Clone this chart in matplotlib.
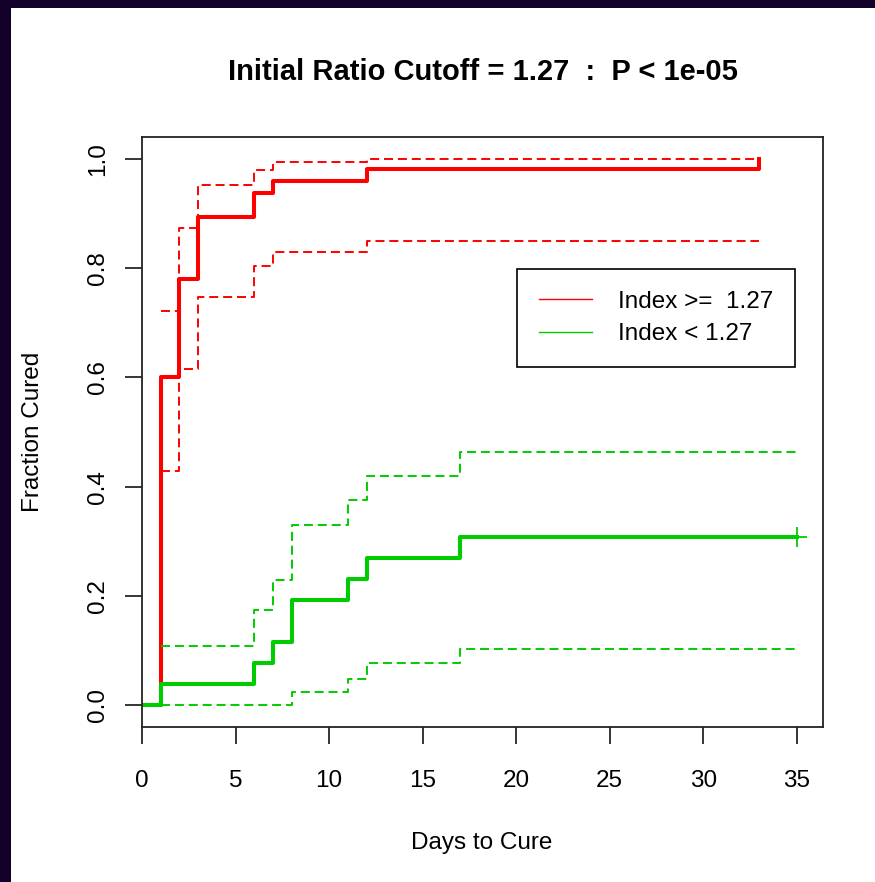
import matplotlib
matplotlib.use("Agg")
import matplotlib.pyplot as plt
from matplotlib.patches import Rectangle

# ----------------------------
# Data
# ----------------------------
TITLE = "Initial Ratio Cutoff = 1.27  :  P < 1e-05"
XLABEL = "Days to Cure"
YLABEL = "Fraction Cured"
LABEL_HIGH = "Index >=  1.27"
LABEL_LOW = "Index < 1.27"

# Index >= 1.27 (red)
high_days = [0, 1, 2, 3, 6, 7, 12, 33]
high_frac = [0.0, 0.600, 0.780, 0.893, 0.937, 0.960, 0.982, 1.0]
high_ci_days = [1, 2, 3, 6, 7, 12, 33]
high_upper = [0.722, 0.873, 0.953, 0.979, 0.994, 0.999, 0.999]
high_lower = [0.428, 0.616, 0.748, 0.804, 0.830, 0.849, 0.849]

# Index < 1.27 (green)
low_days = [0, 1, 6, 7, 8, 11, 12, 17, 35]
low_frac = [0.0, 0.0385, 0.077, 0.115, 0.192, 0.231, 0.269, 0.308, 0.308]
low_ci_days = [1, 6, 7, 8, 11, 12, 17, 35]
low_upper = [0.109, 0.174, 0.230, 0.330, 0.376, 0.420, 0.463, 0.463]
low_lower = [0.0, 0.0, 0.0, 0.0245, 0.048, 0.077, 0.1025, 0.1025]
low_censor_day = [35]
low_censor_frac = [0.308]

x_ticks = [0, 5, 10, 15, 20, 25, 30, 35]
y_ticks = [0.0, 0.2, 0.4, 0.6, 0.8, 1.0]

RED = "#FF0000"
GREEN = "#00CD00"
BORDER = "#130029"

plt.rcParams["font.family"] = ["Liberation Sans", "DejaVu Sans"]
plt.rcParams["lines.scale_dashes"] = False
FS = 17.5

# ----------------------------
# Figure
# ----------------------------
fig = plt.figure(figsize=(8.75, 8.82), dpi=100, facecolor=BORDER)
fig.add_artist(Rectangle((11 / 875, 0), 1, 1 - 8 / 882, transform=fig.transFigure,
                         facecolor="white", edgecolor="none", zorder=-1))

ax = fig.add_axes([142 / 875, 155 / 882, 681 / 875, 590 / 882])

dash = (6.5, 3.5)
ax.step(high_days, high_frac, where="post", color=RED, lw=2.9)
ax.step(high_ci_days, high_upper, where="post", color=RED, lw=1.4, dashes=dash)
ax.step(high_ci_days, high_lower, where="post", color=RED, lw=1.4, dashes=dash)

ax.step(low_days, low_frac, where="post", color=GREEN, lw=2.9)
ax.step(low_ci_days, low_upper, where="post", color=GREEN, lw=1.4, dashes=dash)
ax.step(low_ci_days, low_lower, where="post", color=GREEN, lw=1.4, dashes=dash)
ax.plot(low_censor_day, low_censor_frac, "+", color=GREEN, ms=15, mew=1.3)

ax.set_xlim(0, 36.4)
ax.set_ylim(-0.04, 1.04)
ax.set_xticks(x_ticks)
ax.set_yticks(y_ticks)
ax.set_xticklabels([str(t) for t in x_ticks])
ax.set_yticklabels([f"{t:.1f}" for t in y_ticks], rotation=90, va="center")
ax.tick_params(direction="out", length=12, width=1.1, labelsize=FS, color="black")
ax.tick_params(axis="x", pad=19)
ax.tick_params(axis="y", pad=12)
for s in ax.spines.values():
    s.set_linewidth(1.3)
    s.set_color("#222222")

# legend
h1, = ax.plot([], [], color=RED, lw=1.0)
h2, = ax.plot([], [], color=GREEN, lw=1.0)
leg = ax.legend([h1, h2], [LABEL_HIGH, LABEL_LOW], loc="upper left",
                bbox_to_anchor=(0.5507, 0.7763), borderaxespad=0, fontsize=FS,
                handlelength=2.2, handletextpad=1.05, labelspacing=0.42,
                borderpad=0.9, fancybox=False, framealpha=1)
leg.get_frame().set_edgecolor("black")
leg.get_frame().set_linewidth(1.2)

fig.text(483 / 875, 1 - 72 / 882, TITLE, ha="center", va="center", fontsize=21,
         fontweight="bold")
fig.text(482 / 875, 1 - 843 / 882, XLABEL, ha="center", va="center", fontsize=FS)
fig.text(33 / 875, 1 - 432 / 882, YLABEL, ha="center", va="center", fontsize=FS,
         rotation=90)

fig.savefig("out.png", dpi=100, facecolor=fig.get_facecolor())
